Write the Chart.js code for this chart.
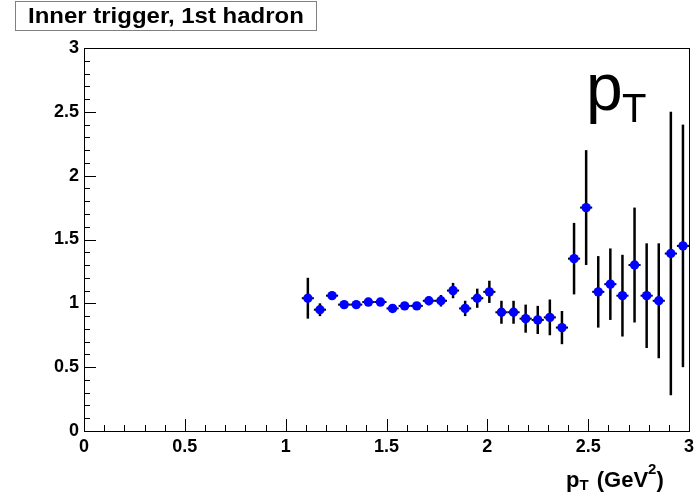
<!DOCTYPE html>
<html>
<head>
<meta charset="utf-8">
<script src="https://cdn.jsdelivr.net/npm/chart.js@4.4.1/dist/chart.umd.min.js"></script>
<style>
  body { margin: 0; background: #fff; }
  canvas { display: block; }
</style>
</head>
<body>
<canvas id="myChart" width="698" height="496"></canvas>
<script>
// bin centres, ratio values and errors
const xVals = [1.11, 1.17, 1.23, 1.29, 1.35, 1.41, 1.47, 1.53, 1.59, 1.65, 1.71, 1.77, 1.83, 1.89, 1.95, 2.01,
               2.07, 2.13, 2.19, 2.25, 2.31, 2.37, 2.43, 2.49, 2.55, 2.61, 2.67, 2.73, 2.79, 2.85, 2.91, 2.97];
const yVals = [1.04, 0.95, 1.06, 0.99, 0.99, 1.01, 1.01, 0.96, 0.98, 0.98, 1.02, 1.02, 1.10, 0.96, 1.04, 1.09,
               0.93, 0.93, 0.88, 0.87, 0.89, 0.81, 1.35, 1.75, 1.09, 1.15, 1.06, 1.30, 1.06, 1.02, 1.39, 1.45];
const yErr  = [0.16, 0.05, 0.03, 0.03, 0.03, 0.03, 0.03, 0.03, 0.03, 0.03, 0.035, 0.045, 0.06, 0.06, 0.075, 0.087,
               0.09, 0.09, 0.11, 0.11, 0.14, 0.13, 0.28, 0.45, 0.28, 0.28, 0.32, 0.45, 0.41, 0.45, 1.11, 0.95];
const xErr = 0.03;

const titleText = 'Inner trigger, 1st hadron';
const fontFam = "'Liberation Sans', Arial, Helvetica, sans-serif";

const points = xVals.map((x, i) => ({ x: x, y: yVals[i] }));

// error bars, drawn under the markers
const errorBars = {
  id: 'errorBars',
  beforeDatasetsDraw(chart) {
    const { ctx, scales: { x, y } } = chart;
    ctx.save();
    ctx.strokeStyle = '#000';
    xVals.forEach((xv, i) => {
      const px = x.getPixelForValue(xv);
      const py = y.getPixelForValue(yVals[i]);
      ctx.lineWidth = 2.5;
      ctx.beginPath();
      ctx.moveTo(px, y.getPixelForValue(yVals[i] - yErr[i]));
      ctx.lineTo(px, y.getPixelForValue(yVals[i] + yErr[i]));
      ctx.stroke();
      ctx.lineWidth = 2;
      ctx.beginPath();
      ctx.moveTo(x.getPixelForValue(xv - xErr), py);
      ctx.lineTo(x.getPixelForValue(xv + xErr), py);
      ctx.stroke();
    });
    ctx.restore();
  }
};

// ROOT style frame with inward ticks, title box and labels
const decorations = {
  id: 'decorations',
  afterDraw(chart) {
    const { ctx, chartArea: a, scales: { x, y } } = chart;
    ctx.save();
    ctx.strokeStyle = '#000';
    ctx.lineWidth = 1;
    ctx.strokeRect(a.left + 0.5, a.top + 0.5, a.right - a.left, a.bottom - a.top);

    for (let i = 0; i <= 30; i++) {
      const v = i / 10;
      const len = (i % 5 === 0) ? 12 : 6;
      const py = Math.round(y.getPixelForValue(v)) + 0.5;
      ctx.beginPath();
      ctx.moveTo(a.left, py);
      ctx.lineTo(a.left + len, py);
      ctx.stroke();
      const px = Math.round(x.getPixelForValue(v)) + 0.5;
      ctx.beginPath();
      ctx.moveTo(px, a.bottom);
      ctx.lineTo(px, a.bottom - len);
      ctx.stroke();
    }

    // title box
    ctx.fillStyle = '#fff';
    ctx.fillRect(15, 1, 301, 29);
    ctx.strokeStyle = '#808080';
    ctx.strokeRect(15.5, 1.5, 301, 29);
    ctx.fillStyle = '#000';
    ctx.textBaseline = 'alphabetic';
    ctx.font = 'bold 22px ' + fontFam;
    ctx.save();
    ctx.translate(28, 23);
    ctx.scale(1.09, 1);
    ctx.fillText(titleText, 0, 0);
    ctx.restore();

    // big pT
    ctx.font = '66px ' + fontFam;
    ctx.fillText('p', 586, 110);
    ctx.font = '40px ' + fontFam;
    ctx.fillText('T', 622, 122);

    // x-axis title: pT (GeV^2)
    const bx = 566, by = 487;
    ctx.font = 'bold 22px ' + fontFam;
    ctx.fillText('p', bx, by);
    let cx = bx + ctx.measureText('p').width;
    ctx.font = 'bold 15px ' + fontFam;
    ctx.fillText('T', cx, by + 3);
    cx += ctx.measureText('T').width + 2;
    ctx.font = 'bold 22px ' + fontFam;
    ctx.fillText(' (GeV', cx, by);
    cx += ctx.measureText(' (GeV').width;
    ctx.font = 'bold 15px ' + fontFam;
    ctx.fillText('2', cx, by - 13);
    cx += ctx.measureText('2').width;
    ctx.font = 'bold 22px ' + fontFam;
    ctx.fillText(')', cx, by);
    ctx.restore();
  }
};

const tickLabel = (v) => String(Math.round(v * 10) / 10);

const config = {
  type: 'scatter',
  data: {
    datasets: [{
      data: points,
      backgroundColor: '#0000ff',
      borderColor: '#0000ff',
      pointStyle: 'circle',
      pointRadius: 4.7,
      borderWidth: 0
    }]
  },
  options: {
    responsive: false,
    animation: false,
    layout: { padding: { left: 0, top: 48, right: 9, bottom: 0 } },
    plugins: {
      legend: { display: false },
      tooltip: { enabled: false }
    },
    scales: {
      x: {
        type: 'linear',
        min: 0,
        max: 3,
        afterFit: (scale) => {
          scale.height = 65;
          scale.paddingLeft = 0;
          scale.paddingRight = 0;
        },
        grid: { display: false, drawTicks: false },
        border: { display: false },
        ticks: {
          stepSize: 0.5,
          padding: 5,
          color: '#000',
          font: { family: fontFam, size: 18, weight: 'bold' },
          maxRotation: 0,
          callback: tickLabel
        }
      },
      y: {
        min: 0,
        max: 3,
        afterFit: (scale) => {
          scale.width = 84;
          scale.paddingTop = 0;
          scale.paddingBottom = 0;
        },
        grid: { display: false, drawTicks: false },
        border: { display: false },
        ticks: {
          stepSize: 0.5,
          padding: 5,
          color: '#000',
          font: { family: fontFam, size: 18, weight: 'bold' },
          callback: tickLabel
        }
      }
    }
  },
  plugins: [errorBars, decorations]
};

const myChart = new Chart(document.getElementById('myChart'), config);
</script>
</body>
</html>
